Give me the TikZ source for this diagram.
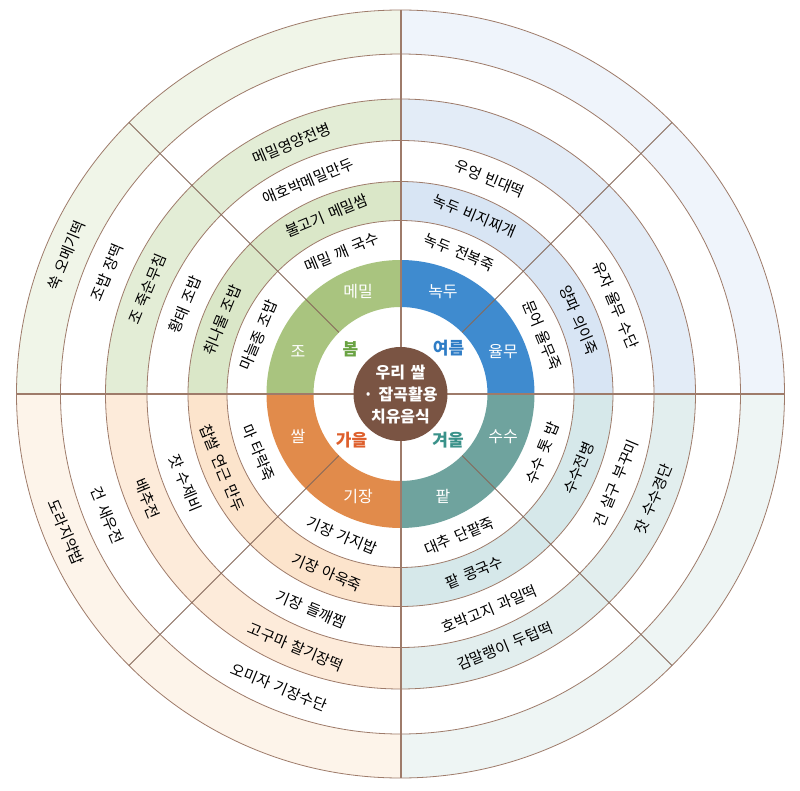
\documentclass[tikz,border=0pt]{standalone}
\usepackage{fontspec}
\setmainfont[WordSpace=1.5]{Noto Sans CJK KR}
\usepackage{tikz}
\usetikzlibrary{calc}

\definecolor{linebrown}{HTML}{9E7B6A}
\definecolor{corebrown}{HTML}{7A5443}
% spring
\definecolor{springmain}{HTML}{A9C47F}
\definecolor{springband}{HTML}{DAE7C8}
\definecolor{springbandb}{HTML}{E3EDD6}
\definecolor{springouter}{HTML}{F0F5E8}
\definecolor{springtext}{HTML}{6AA343}
% summer
\definecolor{summermain}{HTML}{3F8BCF}
\definecolor{summerband}{HTML}{D8E5F4}
\definecolor{summerbandb}{HTML}{E3ECF7}
\definecolor{summerouter}{HTML}{EFF4FB}
\definecolor{summertext}{HTML}{2F7DC6}
% autumn
\definecolor{autumnmain}{HTML}{E18B4B}
\definecolor{autumnband}{HTML}{FCE4CC}
\definecolor{autumnbandb}{HTML}{FDEBDA}
\definecolor{autumnouter}{HTML}{FDF4EA}
\definecolor{autumntext}{HTML}{DE5F2C}
% winter
\definecolor{wintermain}{HTML}{6FA39E}
\definecolor{winterband}{HTML}{D6E8EA}
\definecolor{winterbandb}{HTML}{E2EEEE}
\definecolor{winterouter}{HTML}{EEF5F4}
\definecolor{wintertext}{HTML}{3A928A}

% start angle, end angle, inner radius, outer radius, colour
\newcommand{\ringpart}[5]{%
  \fill[#5] (#1:#3) arc[start angle=#1, end angle=#2, radius=#3]
    -- (#2:#4) arc[start angle=#2, end angle=#1, radius=#4] -- cycle;}

\begin{document}
\begin{tikzpicture}[
    x=1pt, y=1pt,
    ringline/.style={draw=linebrown, line width=0.8},
    axisline/.style={draw=linebrown, line width=2},
    splitline/.style={draw=linebrown!85!black, line width=0.9},
    dish/.style={font=\fontsize{15}{17}\selectfont, inner sep=0pt},
    grain/.style={font=\fontsize{16}{18}\selectfont, text=white, inner sep=0pt},
    season/.style={font=\fontsize{17}{19}\selectfont\bfseries, inner sep=0pt},
    springtop/.style={dish, rotate=22.5},
    springleft/.style={dish, rotate=67.5},
    summertop/.style={dish, rotate=-22.5},
    summerright/.style={dish, rotate=-67.5},
    autumnleft/.style={dish, rotate=-67.5},
    autumnbottom/.style={dish, rotate=-22.5},
    winterbottom/.style={dish, rotate=22.5},
    winterright/.style={dish, rotate=67.5}
]
    \useasboundingbox[fill=white] (-400.5,-396) rectangle (399.5,394);

    % Quadrant fills
    \ringpart{90}{180}{87}{134}{springmain}
    \ringpart{90}{180}{173.5}{212.5}{springband}
    \ringpart{90}{180}{253.5}{295}{springbandb}
    \ringpart{90}{180}{340}{384}{springouter}

    \ringpart{0}{90}{87}{134}{summermain}
    \ringpart{0}{90}{173.5}{212.5}{summerband}
    \ringpart{0}{90}{253.5}{295}{summerbandb}
    \ringpart{0}{90}{340}{384}{summerouter}

    \ringpart{180}{270}{87}{134}{autumnmain}
    \ringpart{180}{270}{173.5}{212.5}{autumnband}
    \ringpart{180}{270}{253.5}{295}{autumnbandb}
    \ringpart{180}{270}{340}{384}{autumnouter}

    \ringpart{270}{360}{87}{134}{wintermain}
    \ringpart{270}{360}{173.5}{212.5}{winterband}
    \ringpart{270}{360}{253.5}{295}{winterbandb}
    \ringpart{270}{360}{340}{384}{winterouter}

    % Ring outlines
    \draw[ringline] (0,0) circle[radius=173.5];
    \draw[ringline] (0,0) circle[radius=212.5];
    \draw[ringline] (0,0) circle[radius=253.5];
    \draw[ringline] (0,0) circle[radius=295];
    \draw[ringline] (0,0) circle[radius=340];
    \draw[ringline] (0,0) circle[radius=384];

    % Axes and half-quadrant splits
    \draw[axisline] (180:384) -- (0:384);
    \draw[axisline] (90:384) -- (270:384);
    \draw[splitline] (45:87) -- (45:384);
    \draw[splitline] (135:87) -- (135:384);
    \draw[splitline] (225:87) -- (225:384);
    \draw[splitline] (315:87) -- (315:384);

    % Centre
    \fill[corebrown] (0,0) circle[radius=47];
    \node[align=center, text=white, font=\fontsize{16}{22}\selectfont\bfseries] (core) at (0,0)
        {우리 쌀\\· 잡곡활용\\치유음식};

    % Seasons
    \node[season, text=springtext] (spring) at (-50,45) {봄};
    \node[season, text=summertext] (summer) at (48,46) {여름};
    \node[season, text=autumntext] (autumn) at (-49,-46) {가을};
    \node[season, text=wintertext] (winter) at (47.5,-46) {겨울};

    % Grains
    \node[grain] (g-buckwheat) at (112.5:111) {메밀};
    \node[grain] (g-millet) at (157.5:111) {조};
    \node[grain] (g-mungbean) at (67.5:111) {녹두};
    \node[grain] (g-jobstears) at (22.5:111) {율무};
    \node[grain] (g-rice) at (202.5:111) {쌀};
    \node[grain] (g-foxtail) at (247.5:111) {기장};
    \node[grain] (g-redbean) at (292.5:111) {팥};
    \node[grain] (g-sorghum) at (337.5:111) {수수};

    % Spring dishes
    \node[springtop] (sp-t1) at (112.5:153.5) {메밀 깨 국수};
    \node[springtop] (sp-t2) at (112.5:193) {불고기 메밀쌈};
    \node[springtop] (sp-t3) at (113.5:232) {애호박메밀만두};
    \node[springtop] (sp-t4) at (113.5:273) {메밀영양전병};
    \node[springleft] (sp-l1) at (157.5:153.5) {마늘종 조밥};
    \node[springleft] (sp-l2) at (157.5:193) {취나물 조밥};
    \node[springleft] (sp-l3) at (157.5:233) {황태 조밥};
    \node[springleft] (sp-l4) at (157.5:274) {조 죽순무침};
    \node[springleft] (sp-l5) at (157.5:317.5) {조밥 장떡};
    \node[springleft] (sp-l6) at (157.5:362) {쑥 오메기떡};

    % Summer dishes
    \node[summertop] (su-t1) at (67.5:153.5) {녹두 전복죽};
    \node[summertop] (su-t2) at (67.5:193) {녹두 비지찌개};
    \node[summertop] (su-t3) at (67.5:233) {우엉 빈대떡};
    \node[summerright] (su-r1) at (22.5:153.5) {문어 율무죽};
    \node[summerright] (su-r2) at (22.5:193) {양파 의이죽};
    \node[summerright] (su-r3) at (22.5:233) {유자 율무 수단};

    % Autumn dishes
    \node[autumnleft] (au-l1) at (202.5:153.5) {마 타락죽};
    \node[autumnleft] (au-l2) at (202.5:193) {찹쌀 연근 만두};
    \node[autumnleft] (au-l3) at (202.5:233) {잣 수제비};
    \node[autumnleft] (au-l4) at (202.5:274) {배추전};
    \node[autumnleft] (au-l5) at (202.5:317.5) {건 새우전};
    \node[autumnleft] (au-l6) at (202.5:362) {도라지약밥};
    \node[autumnbottom] (au-b1) at (247.5:153.5) {기장 가지밥};
    \node[autumnbottom] (au-b2) at (247.5:193) {기장 아욱죽};
    \node[autumnbottom] (au-b3) at (247.5:233) {기장 들깨찜};
    \node[autumnbottom] (au-b4) at (247.5:274) {고구마 찰기장떡};
    \node[autumnbottom] (au-b5) at (247.5:317.5) {오미자 기장수단};

    % Winter dishes
    \node[winterbottom] (wi-b1) at (292.5:153.5) {대추 단팥죽};
    \node[winterbottom] (wi-b2) at (292.5:193) {팥 콩국수};
    \node[winterbottom] (wi-b3) at (292.5:233) {호박고지 과일떡};
    \node[winterbottom] (wi-b4) at (292.5:273) {감말랭이 두텁떡};
    \node[winterright] (wi-r1) at (337.5:153.5) {수수 톳 밥};
    \node[winterright] (wi-r2) at (337.5:193) {수수전병};
    \node[winterright] (wi-r3) at (337.5:233) {건 살구 부꾸미};
    \node[winterright] (wi-r4) at (337.5:274) {잣 수수경단};
\end{tikzpicture}
\end{document}
